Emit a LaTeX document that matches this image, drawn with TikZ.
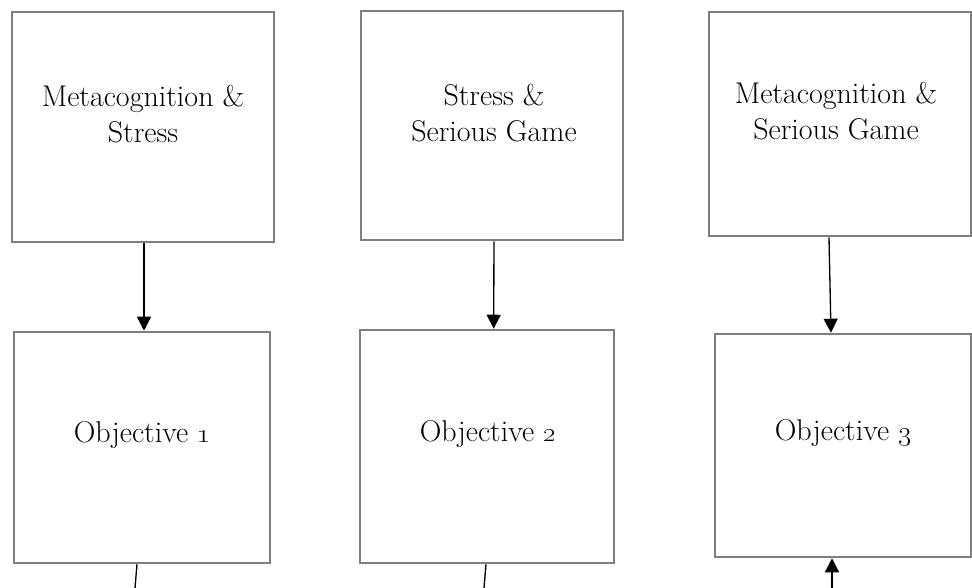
\documentclass[tikz,border=0pt]{standalone}
\usetikzlibrary{arrows.meta}

\tikzset{every picture/.style={line width=0.75pt}}
\tikzset{
  objbox/.style={draw={rgb, 255:red, 127; green, 127; blue, 127}, line width=1.9pt, rectangle, inner sep=0pt},
  boxtext/.style={align=center, font=\fontsize{22.5}{27}\selectfont},
  arr/.style={draw=black, line width=1pt, -{Triangle[length=10.5pt,width=10.5pt]}},
  plain/.style={draw=black, line width=1pt}
}

\begin{document}
\begin{tikzpicture}[x=0.75pt,y=0.75pt,yscale=-1,xscale=1]
	\useasboundingbox (0,0) rectangle (972,588);

	% Boxes: top row
	\node [objbox, minimum width=196.5pt, minimum height=172.5pt] (mcs) at (143,127) {};
	\node [objbox, minimum width=196.5pt, minimum height=171.75pt] (ssg) at (492,125.5) {};
	\node [objbox, minimum width=196.5pt, minimum height=168pt] (msg) at (840,124) {};
	% Boxes: objectives
	\node [objbox, minimum width=192pt, minimum height=173.25pt] (obj1) at (142,447.5) {};
	\node [objbox, minimum width=190.5pt, minimum height=174.75pt] (obj2) at (487,446.5) {};
	\node [objbox, minimum width=192pt, minimum height=167.25pt] (obj3) at (843,445.5) {};

	% Text Node
	\node [boxtext] (mcstxt) at (143,114) {Metacognition \&\\Stress};
	% Text Node
	\node [boxtext] (ssgtxt) at (494,113) {Stress \&\\Serious Game};
	% Text Node
	\node [boxtext] (msgtxt) at (836,111) {Metacognition \&\\Serious Game};
	% Text Node
	\node [boxtext] (obj1txt) at (142,435) {Objective \oldstylenums{1}};
	% Text Node
	\node [boxtext] (obj2txt) at (488,434) {Objective \oldstylenums{2}};
	% Text Node
	\node [boxtext] (obj3txt) at (843,433) {Objective \oldstylenums{3}};

	% Free ends below the objectives
	\coordinate (end1) at (135,588);
	\coordinate (end2) at (484,588);
	\coordinate (start3) at (832,588);

	% Arrows
	\draw [arr] ([xshift=0.75pt]mcs.south) -- ([xshift=0.75pt]mcs.south |- obj1.north);
	\draw [arr] ([xshift=1.5pt]ssg.south) -- ([xshift=5pt]obj2.north);
	\draw [arr] ([xshift=-8.25pt]msg.south) -- ([xshift=-9pt]obj3.north);
	\draw [plain] ([xshift=-3.75pt]obj1.south) -- (end1);
	\draw [plain] ([xshift=-0.75pt]obj2.south) -- (end2);
	\draw [arr] (start3) -- (start3 |- obj3.south);

\end{tikzpicture}
\end{document}
